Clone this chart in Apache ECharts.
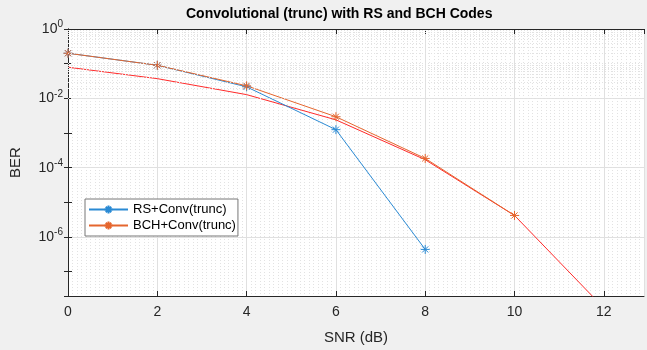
<!DOCTYPE html>
<html>
<head>
<meta charset="utf-8">
<script src="https://cdn.jsdelivr.net/npm/echarts@6/dist/echarts.min.js"></script>
<style>
  html, body { margin: 0; padding: 0; background: #f0f0f0; }
  #chart { width: 647px; height: 350px; }
</style>
</head>
<body>
<div id="chart"></div>
<script>
// SNR points (dB)
const snr = [0, 2, 4, 6, 8, 10, 12];
// BER
const rsBer = [0.2, 0.09, 0.0215, 1.25e-3, 4.4e-7];
const bchBer = [0.2, 0.09, 0.023, 2.95e-3, 1.85e-4, 4.2e-6];
const truncBer = [0.079, 0.037, 0.0128, 2.4e-3, 1.7e-4, 4.2e-6, 9e-9];
const seriesNames = ["RS+Conv(trunc)", "BCH+Conv(trunc)"];

const yMin = Math.pow(10, -7.7);
const yMax = 1;
const xMax = 12.9;

const blue = "#2a8ad4";
const orange = "#e5662e";
const red = "#ff2a2a";
const ink = "#262626";

const pairs = (ys) => ys.map((v, i) => [snr[i], v]);

// asterisk marker like matlab's '*'
const star = "path://M5,0L5,10M0,5L10,5M1.6,1.6L8.4,8.4M8.4,1.6L1.6,8.4";

// minor log grid: 2..9 x 10^k, plus the odd decades
const minorY = [];
for (let k = 0; k >= -8; k--) {
  for (let m = 2; m <= 9; m++) {
    const v = m * Math.pow(10, k - 1);
    if (v > yMin && v < yMax) minorY.push({ yAxis: v });
  }
  if (k % 2 !== 0 && Math.pow(10, k) > yMin) minorY.push({ yAxis: Math.pow(10, k) });
}

const chart = echarts.init(document.getElementById("chart"));

const supLabel = (v) => {
  const e = Math.log10(v);
  const r = Math.round(e);
  if (Math.abs(e - r) > 1e-6 || r % 2 !== 0) return "";
  return "10{sup|" + r + "}";
};

chart.setOption({
  animation: false,
  backgroundColor: "#f0f0f0",
  textStyle: { fontFamily: "Liberation Sans, Arial, sans-serif" },
  title: {
    text: "Convolutional (trunc) with RS and BCH Codes",
    left: 186,
    top: 7,
    padding: 0,
    textStyle: { fontSize: 14, fontWeight: "bold", color: "#000" },
  },
  grid: {
    left: 64, right: 3, top: 29, bottom: 48,
    show: true, backgroundColor: "#fff", borderWidth: 0,
  },
  legend: {
    data: seriesNames,
    orient: "vertical",
    left: 85,
    top: 199,
    padding: [4, 2, 4, 3],
    itemGap: 3,
    itemWidth: 39,
    itemHeight: 10,
    backgroundColor: "#fff",
    borderColor: "#777",
    borderWidth: 1,
    borderRadius: 0,
    textStyle: { fontSize: 13, color: "#000" },
  },
  xAxis: [
    {
      type: "value",
      min: 0, max: xMax, interval: 2,
      name: "SNR (dB)",
      nameLocation: "middle",
      nameGap: 34,
      nameTextStyle: { fontSize: 15, color: ink },
      axisLine: { lineStyle: { color: ink } },
      axisTick: { inside: true, length: 5, lineStyle: { color: ink } },
      axisLabel: { showMaxLabel: false, fontSize: 14, color: ink, margin: 9 },
      splitLine: { lineStyle: { color: "#e0e0e0" } },
      minorTick: { show: false, splitNumber: 20 },
      minorSplitLine: { show: true, lineStyle: { color: "#e2e2e2", type: [1, 2] } },
    },
    {
      type: "value", position: "top",
      min: 0, max: xMax, interval: 2,
      axisLine: { lineStyle: { color: ink } },
      axisTick: { inside: true, length: 5, lineStyle: { color: ink } },
      axisLabel: { show: false },
      splitLine: { show: false },
    },
  ],
  yAxis: [
    {
      type: "log",
      min: yMin, max: yMax,
      splitNumber: 4,
      name: "BER",
      nameLocation: "middle",
      nameGap: 45,
      nameTextStyle: { fontSize: 15, color: ink },
      axisLine: { show: true, lineStyle: { color: ink } },
      axisTick: { inside: true, length: 4, lineStyle: { color: ink } },
      axisLabel: {
        fontSize: 14, color: ink, margin: 5,
        showMinLabel: false,
        formatter: supLabel,
        rich: { sup: { fontSize: 10, color: ink, verticalAlign: "top", padding: [0, 0, 9, 0] } },
      },
      // solid lines only on the even decades
      splitLine: { lineStyle: { color: ["#e0e0e0", "rgba(0,0,0,0)"] } },
    },
    {
      type: "log", position: "right",
      min: yMin, max: yMax,
      splitNumber: 4,
      axisLine: { show: true, lineStyle: { color: ink } },
      axisTick: { inside: true, length: 4, lineStyle: { color: ink } },
      axisLabel: { show: false },
      splitLine: { show: false },
    },
  ],
  series: [
    {
      name: seriesNames[0],
      type: "line",
      data: pairs(rsBer),
      symbol: star,
      symbolSize: 9,
      lineStyle: { color: blue, width: 1 },
      itemStyle: { color: blue, borderColor: blue, borderWidth: 1 },
    },
    {
      name: seriesNames[1],
      type: "line",
      data: pairs(bchBer),
      symbol: star,
      symbolSize: 9,
      lineStyle: { color: orange, width: 1 },
      itemStyle: { color: orange, borderColor: orange, borderWidth: 1 },
    },
    {
      name: "trunc",
      type: "line",
      data: pairs(truncBer),
      symbol: "none",
      lineStyle: { color: red, width: 1 },
      itemStyle: { color: red },
      z: 1,
      markLine: {
        silent: true,
        symbol: "none",
        label: { show: false },
        lineStyle: { color: "#e2e2e2", type: [1, 2], width: 1 },
        data: minorY,
      },
    },
  ],
});
</script>
</body>
</html>
